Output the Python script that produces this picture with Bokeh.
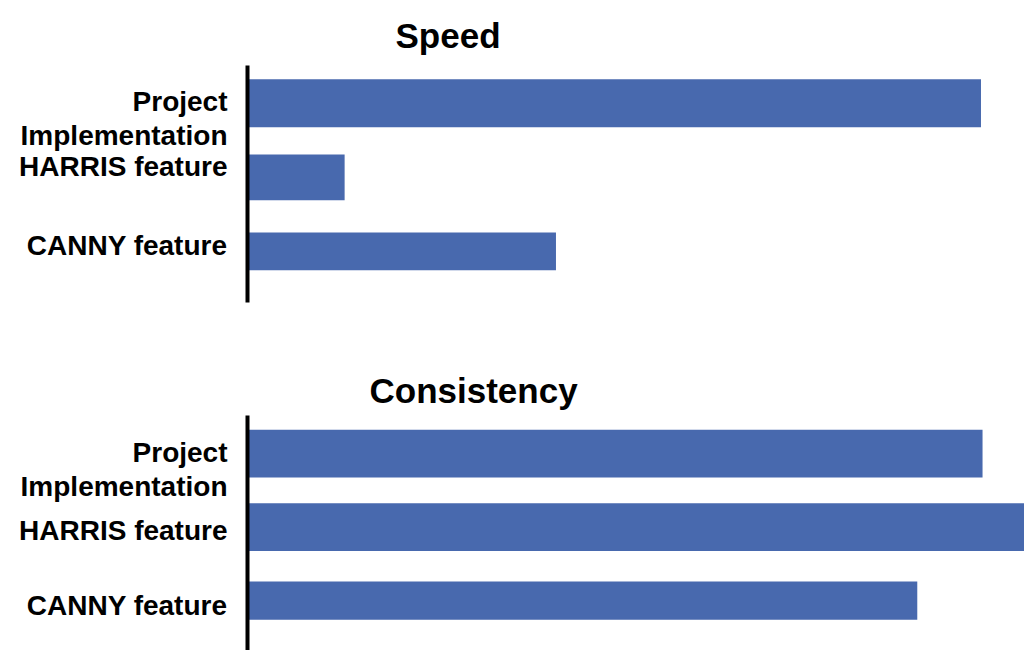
from bokeh.plotting import figure
from bokeh.layouts import column
from bokeh.models import Range1d, FixedTicker, ColumnDataSource
from bokeh.embed import file_html
from bokeh.resources import INLINE

# ---- data ----
categories = ["Project\nImplementation", "HARRIS feature", "CANNY feature"]
speed_values = [94.4, 12.5, 39.7]
consistency_values = [94.6, 101.0, 86.2]
panel_titles = ["Speed", "Consistency"]

# ---- styles / layout ----
BAR_COLOR = "#4869AE"
FONT = "Liberation Sans"
SPEED_BAR_HEIGHTS = [0.65, 0.62, 0.51]
CONS_BAR_HEIGHTS = [0.65, 0.65, 0.52]
SPEED_LABEL_SHIFT = [0.20, -0.15, -0.08]
CONS_LABEL_SHIFT = [0.22, 0.05, 0.07]


def make_panel(title, values, bar_heights, label_shift, height, border_top, border_bottom,
               border_left, y_span, title_offset, title_standoff):
    idx = list(range(len(categories)))
    src = ColumnDataSource(dict(y=idx, v=values, h=bar_heights, cat=categories))
    p = figure(width=1024, height=height, output_backend="svg", toolbar_location=None,
               x_range=Range1d(0, 100), y_range=Range1d(*y_span),
               min_border_left=border_left, min_border_right=0,
               min_border_top=border_top, min_border_bottom=border_bottom,
               title=title)
    p.hbar(y="y", left=0, right="v", height="h", source=src,
           fill_color=BAR_COLOR, line_color=None)
    p.xaxis.visible = False
    p.xgrid.visible = False
    p.ygrid.visible = False
    p.outline_line_color = None
    ax = p.yaxis[0]
    ticks = [i + s for i, s in zip(idx, label_shift)]
    ax.ticker = FixedTicker(ticks=ticks)
    ax.major_label_overrides = {t: c for t, c in zip(ticks, categories)}
    ax.axis_line_width = 4
    ax.axis_line_color = "black"
    ax.major_tick_line_color = None
    ax.minor_tick_line_color = None
    ax.major_label_standoff = 14
    ax.major_label_text_font = FONT
    ax.major_label_text_font_style = "bold"
    ax.major_label_text_font_size = "28px"
    ax.major_label_text_line_height = 1.1
    ax.major_label_text_color = "black"
    p.title.text_font = FONT
    p.title.text_font_style = "bold"
    p.title.text_font_size = "35px"
    p.title.text_color = "black"
    p.title.align = "left"
    p.title.offset = title_offset
    p.title.standoff = title_standoff
    return p


p1 = make_panel(panel_titles[0], speed_values, SPEED_BAR_HEIGHTS, SPEED_LABEL_SHIFT,
                330, 65, 28, 245, (2.69, -0.51), 148, 22)
p2 = make_panel(panel_titles[1], consistency_values, CONS_BAR_HEIGHTS, CONS_LABEL_SHIFT,
                320, 85, 0, 247, (2.68, -0.52), 122, 12)

layout = column(p1, p2, spacing=0)
open("out.html", "w").write(file_html(layout, INLINE))
